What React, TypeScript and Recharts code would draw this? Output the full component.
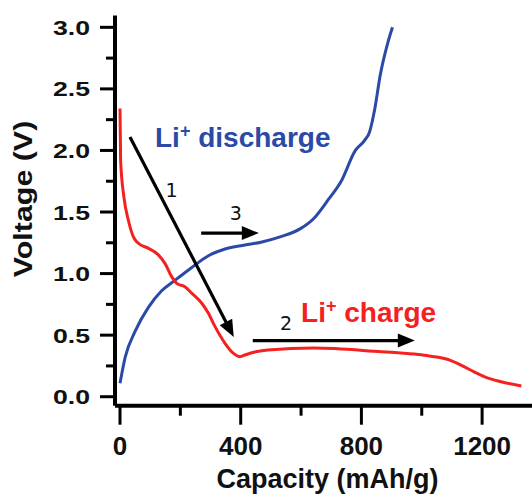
import { LineChart, Line, XAxis, YAxis, ReferenceLine, ReferenceDot } from 'recharts';

// Li+ charge curve (red)
const CHARGE_CAP = [0, 2, 13, 27.5, 44, 61, 94, 127, 149, 171, 188, 215, 238, 271, 293, 315, 348, 376, 398, 414, 450, 490, 643, 867, 930, 1000, 1050, 1095, 1135, 1175, 1215, 1263, 1330];
const CHARGE_V = [2.34, 1.92, 1.62, 1.435, 1.3, 1.246, 1.205, 1.152, 1.083, 0.975, 0.921, 0.893, 0.84, 0.759, 0.677, 0.569, 0.434, 0.352, 0.325, 0.339, 0.365, 0.38, 0.395, 0.365, 0.355, 0.34, 0.322, 0.295, 0.25, 0.2, 0.155, 0.122, 0.087];

// Li+ discharge curve (blue)
const DISCHARGE_CAP = [0, 17, 50, 94, 138, 182, 238, 293, 348, 414, 467, 533, 598, 643, 690, 733, 780, 810, 827, 843, 863, 887, 903];
const DISCHARGE_V = [0.109, 0.32, 0.53, 0.725, 0.86, 0.945, 1.05, 1.145, 1.2, 1.232, 1.255, 1.3, 1.365, 1.45, 1.6, 1.75, 2.0, 2.08, 2.15, 2.32, 2.62, 2.87, 3.0];

const X_TICKS = [0, 200, 400, 600, 800, 1000, 1200, 1400];
const Y_TICKS = [0, 0.25, 0.5, 0.75, 1, 1.25, 1.5, 1.75, 2, 2.25, 2.5, 2.75, 3];
const X_DOMAIN = [-16.6, 1425];
const Y_DOMAIN = [-0.073, 3.096];

// arrows: [fromCap, fromV, toCap, toV]
const ARROWS = [
  [33, 2.109, 377, 0.485],
  [440, 0.456, 977, 0.456],
  [269, 1.329, 460, 1.329],
];
// step numbers: [label, cap, V]
const STEP_LABELS: [string, number, number][] = [
  ['1', 171, 1.623],
  ['2', 550, 0.542],
  ['3', 384, 1.435],
];

const BLUE = '#2b4aa6';
const RED = '#f4211f';

const chargeData = CHARGE_CAP.map((cap, i) => ({ cap, v: CHARGE_V[i] }));
const dischargeData = DISCHARGE_CAP.map((cap, i) => ({ cap, v: DISCHARGE_V[i] }));

function YTick({ x, y, payload }: any) {
  const major = Math.abs(payload.value * 2 - Math.round(payload.value * 2)) < 1e-6;
  return (
    <g>
      <line x1={x - (major ? 15 : 9)} x2={x} y1={y} y2={y} stroke="#000" strokeWidth={3} />
      {major && (
        <text
          transform={`translate(${x - 25} ${y + 7.5}) scale(1.27 1)`}
          textAnchor="end"
          fontFamily="Liberation Sans"
          fontWeight="bold"
          fontSize={21}
          fill="#111"
        >
          {payload.value.toFixed(1)}
        </text>
      )}
    </g>
  );
}

function XTick({ x, y, payload }: any) {
  const major = payload.value % 400 === 0;
  return (
    <g>
      <line x1={x} x2={x} y1={y} y2={y + (major ? 19 : 10)} stroke="#000" strokeWidth={3} />
      {major && (
        <text x={x} y={y + 49} textAnchor="middle" fontFamily="Liberation Sans" fontWeight="bold" fontSize={26} fill="#111">
          {payload.value}
        </text>
      )}
    </g>
  );
}

function Arrow({ x1, y1, x2, y2 }: any) {
  const len = Math.hypot(x2 - x1, y2 - y1);
  const ux = (x2 - x1) / len;
  const uy = (y2 - y1) / len;
  const head = 17;
  const half = 7;
  const bx = x2 - ux * head;
  const by = y2 - uy * head;
  return (
    <g>
      <line x1={x1} y1={y1} x2={bx + ux * 2} y2={by + uy * 2} stroke="#000" strokeWidth={3.2} />
      <polygon
        points={`${x2},${y2} ${bx - uy * half},${by + ux * half} ${bx + uy * half},${by - ux * half}`}
        fill="#000"
      />
    </g>
  );
}

function LiText({ cx, cy, word, color }: any) {
  return (
    <text x={cx} y={cy} fontFamily="Liberation Sans" fontWeight="bold" fontSize={28} fill={color}>
      Li
      <tspan fontSize={18} dy={-10}>+</tspan>
      <tspan dy={10}> {word}</tspan>
    </text>
  );
}

export default function App() {
  return (
    <div style={{ position: 'absolute', left: 0, top: 0, width: 532, height: 500, overflow: 'hidden', background: '#fff' }}>
      <LineChart width={560} height={500} margin={{ top: 15.5, right: 10, bottom: 0, left: 0 }}>
        <XAxis
          dataKey="cap"
          type="number"
          domain={X_DOMAIN}
          ticks={X_TICKS}
          allowDataOverflow
          height={94.3}
          tickSize={0}
          tickMargin={0}
          tickLine={false}
          tick={<XTick />}
          axisLine={{ stroke: '#000', strokeWidth: 4 }}
          label={{
            content: ({ viewBox }: any) => (
              <text
                x={viewBox.x + viewBox.width / 2 - 5}
                y={viewBox.y + 82.3}
                textAnchor="middle"
                fontFamily="Liberation Sans"
                fontWeight="bold"
                fontSize={27}
                fill="#111"
              >
                Capacity (mAh/g)
              </text>
            ),
          }}
        />
        <XAxis
          xAxisId="top"
          orientation="top"
          type="number"
          domain={X_DOMAIN}
          allowDataOverflow
          height={0}
          tick={false}
          tickLine={false}
          axisLine={{ stroke: '#000', strokeWidth: 4 }}
        />
        <YAxis
          type="number"
          domain={Y_DOMAIN}
          ticks={Y_TICKS}
          allowDataOverflow
          width={115}
          tickSize={0}
          tickMargin={0}
          tickLine={false}
          tick={<YTick />}
          axisLine={{ stroke: '#000', strokeWidth: 4 }}
          label={{
            content: ({ viewBox }: any) => {
              const tx = viewBox.x + 32;
              const ty = viewBox.y + viewBox.height / 2 - 11.6;
              return (
                <text
                  transform={`translate(${tx} ${ty}) rotate(-90) scale(1.17 1)`}
                  textAnchor="middle"
                  fontFamily="Liberation Sans"
                  fontWeight="bold"
                  fontSize={26}
                  fill="#111"
                >
                  Voltage (V)
                </text>
              );
            },
          }}
        />
        <Line
          data={dischargeData}
          dataKey="v"
          type="monotone"
          stroke={BLUE}
          strokeWidth={3}
          dot={false}
          activeDot={false}
          isAnimationActive={false}
        />
        <Line
          data={chargeData}
          dataKey="v"
          type="monotone"
          stroke={RED}
          strokeWidth={3}
          dot={false}
          activeDot={false}
          isAnimationActive={false}
        />
        {ARROWS.map((a, i) => (
          <ReferenceLine
            key={`arrow-${i}`}
            segment={[{ x: a[0], y: a[1] }, { x: a[2], y: a[3] }]}
            stroke="#000"
            shape={(p: any) => <Arrow {...p} />}
          />
        ))}
        {STEP_LABELS.map(([t, cap, v]) => (
          <ReferenceDot
            key={`step-${t}`}
            x={cap}
            y={v}
            r={0}
            shape={(p: any) => (
              <text x={p.cx} y={p.cy} textAnchor="middle" fontFamily="DejaVu Sans" fontSize={19} fill="#111">
                {t}
              </text>
            )}
          />
        ))}
        <ReferenceDot
          x={116}
          y={2.028}
          r={0}
          shape={(p: any) => <LiText cx={p.cx} cy={p.cy} word="discharge" color={BLUE} />}
        />
        <ReferenceDot
          x={600}
          y={0.607}
          r={0}
          shape={(p: any) => <LiText cx={p.cx} cy={p.cy} word="charge" color={RED} />}
        />
      </LineChart>
    </div>
  );
}
